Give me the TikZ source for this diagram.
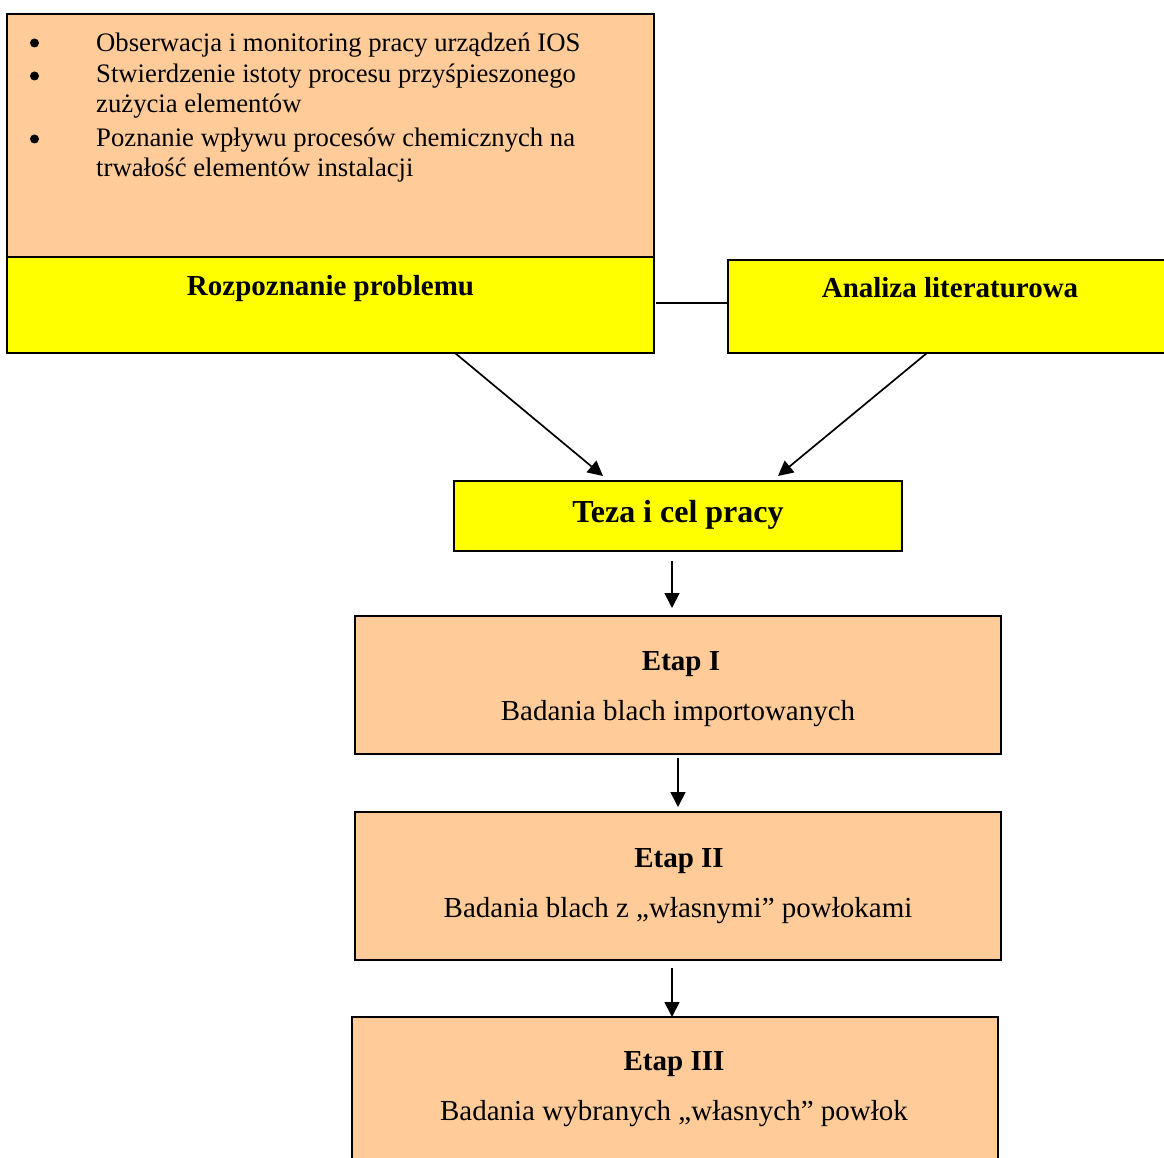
\documentclass[tikz,border=0pt]{standalone}
\usepackage{fontspec}
\setmainfont{Liberation Serif}
\usetikzlibrary{arrows.meta}
\definecolor{peach}{HTML}{FFCC99}
\definecolor{brightyellow}{HTML}{FFFF00}
\begin{document}
\begin{tikzpicture}[x=1pt,y=-1pt,
  box/.style={draw=black, line width=1.8pt, inner sep=0pt, outer sep=0pt},
  peachbox/.style={box, fill=peach},
  yellowbox/.style={box, fill=brightyellow},
  txt/.style={inner sep=0pt, anchor=base, font=\fontsize{29}{33}\selectfont},
  txtl/.style={inner sep=0pt, anchor=base west, font=\fontsize{26.7}{31}\selectfont},
  dot/.style={circle, fill=black, inner sep=0pt, minimum size=9pt},
  head/.style={txt, font=\fontsize{29}{33}\selectfont\bfseries},
  arr/.style={line width=1.7pt, -{Triangle[length=15pt,width=15pt]}},
  plain/.style={line width=1.7pt}
]
\useasboundingbox (0,0) rectangle (1164,1158);
\clip (0,0) rectangle (1164,1158);

% problem recognition block
\node[peachbox, minimum width=647pt, minimum height=243pt] (obs) at (330.5,135.5) {};
\node[yellowbox, minimum width=647pt, minimum height=96pt] (rozp) at (330.5,305) {};
\node[dot] (b1) at (34.5,43) {};
\node[dot] (b2) at (34.5,76) {};
\node[dot] (b3) at (34.5,139) {};
\node[txtl] (l1) at (96,52) {Obserwacja i monitoring pracy urządzeń IOS};
\node[txtl] (l2) at (96,83) {Stwierdzenie istoty procesu przyśpieszonego};
\node[txtl] (l3) at (96,113) {zużycia elementów};
\node[txtl] (l4) at (96,147) {Poznanie wpływu procesów chemicznych na};
\node[txtl] (l5) at (96,177) {trwałość elementów instalacji};
\node[head] (rozpt) at (330.5,295) {Rozpoznanie problemu};

% literature review block
\node[yellowbox, minimum width=447pt, minimum height=93pt] (anal) at (951.5,306.5) {};
\node[head] (analt) at (950,298) {Analiza literaturowa};

% thesis
\node[yellowbox, minimum width=448pt, minimum height=70pt] (teza) at (678,516) {};
\node[head, font=\fontsize{32}{36}\selectfont\bfseries] (tezat) at (678,522) {Teza i cel pracy};

% stages
\node[peachbox, minimum width=646pt, minimum height=138pt] (e1) at (678,685) {};
\node[head] (e1t) at (681,670) {Etap I};
\node[txt] (e1s) at (678,720) {Badania blach importowanych};

\node[peachbox, minimum width=646pt, minimum height=148pt] (e2) at (678,886) {};
\node[head] (e2t) at (679,867) {Etap II};
\node[txt] (e2s) at (678,917) {Badania blach z „własnymi” powłokami};

\node[peachbox, minimum width=646pt, minimum height=170pt] (e3) at (675,1102) {};
\node[head] (e3t) at (674,1070) {Etap III};
\node[txt] (e3s) at (674,1120) {Badania wybranych „własnych” powłok};

% connectors
\draw[plain] ([xshift=2pt,yshift=2pt]rozp.east) -- ([yshift=2pt]rozp.east -| anal.west);
\draw[arr] ([xshift=124.5pt]rozp.south) -- ([xshift=-75pt,yshift=5pt]teza.north);
\draw[arr] ([xshift=-24.5pt]anal.south) -- ([xshift=100pt,yshift=5pt]teza.north);
\draw[arr] ([xshift=-6pt,yshift=-10pt]teza.south) -- ([xshift=-6pt,yshift=8pt]e1.north);
\draw[arr] ([yshift=-4pt]e1.south) -- ([yshift=5pt]e2.north);
\draw[arr] ([xshift=-6pt,yshift=-8pt]e2.south) -- ([xshift=-3pt]e3.north);
\end{tikzpicture}
\end{document}
